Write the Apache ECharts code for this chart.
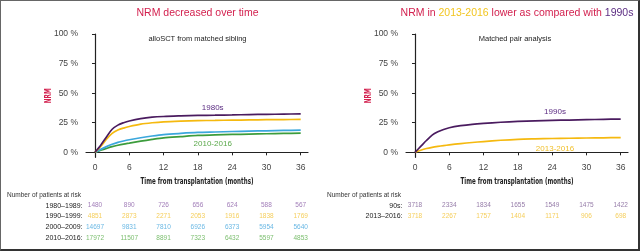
<!DOCTYPE html>
<html>
<head>
<meta charset="utf-8">
<script src="https://cdn.jsdelivr.net/npm/echarts@6/dist/echarts.min.js"></script>
<style>
  html, body { margin: 0; padding: 0; background: #fff; }
  #wrap { position: relative; width: 640px; height: 251px; }
  #chart { width: 640px; height: 251px; }
  #frame { position: absolute; left: 0; top: 0; right: 0; bottom: 0; box-sizing: border-box;
           border: 1px solid #666; border-right: 2px solid #333; border-bottom: 2px solid #333; pointer-events: none; }
</style>
</head>
<body>
<div id="wrap"><div id="chart"></div><div id="frame"></div></div>
<script>
// months at which curve values were read
const months = [0, 1, 2, 3, 4, 5, 6, 8, 10, 12, 15, 18, 21, 24, 27, 30, 33, 36]

// left panel: alloSCT from matched sibling (NRM %)
const nrm1980s = [0, 6, 13, 19.5, 23, 25, 26.5, 28.5, 29.7, 30.3, 30.8, 31.2, 31.4, 31.6, 31.9, 32.1, 32.3, 32.5]
const nrm1990s = [0, 5, 11, 16, 18.8, 20.5, 21.8, 23.8, 25, 25.8, 26.4, 26.8, 27.0, 27.2, 27.4, 27.6, 27.7, 27.8]
const nrm2000s = [0, 2.5, 4.8, 6.8, 8.4, 9.6, 10.6, 12.3, 13.8, 15, 16, 16.8, 17.2, 17.6, 17.9, 18.2, 18.5, 18.7]
const nrm2010s = [0, 1.7, 3.3, 4.8, 6, 7, 7.8, 9.4, 10.9, 12.2, 13.3, 14.3, 14.7, 15.1, 15.4, 15.7, 16, 16.2]

// right panel: matched pair analysis
const pair1990s = [0, 5, 10, 14.5, 17.3, 19.3, 20.8, 22.5, 23.7, 24.5, 25.4, 26.1, 26.6, 27, 27.3, 27.6, 27.9, 28.1]
const pair2013 = [0, 1.8, 3.2, 4.2, 5, 5.7, 6.3, 7.4, 8.3, 9.1, 10.2, 11, 11.4, 11.7, 11.9, 12.1, 12.3, 12.5]

const xTicks = [0, 6, 12, 18, 24, 30, 36]
const yTicks = [0, 25, 50, 75, 100]

// numbers at risk
const riskRowsLeft = ['1980\u20131989:', '1990\u20131999:', '2000\u20132009:', '2010\u20132016:']
const risk1980s = [1480, 890, 726, 656, 624, 588, 567]
const risk1990s = [4851, 2873, 2271, 2053, 1916, 1838, 1769]
const risk2000s = [14697, 9831, 7810, 6926, 6373, 5954, 5640]
const risk2010s = [17972, 11507, 8891, 7323, 6432, 5597, 4853]

const riskRowsRight = ['90s:', '2013\u20132016:']
const riskPair1990s = [3718, 2334, 1834, 1655, 1549, 1475, 1422]
const riskPair2013 = [3718, 2267, 1757, 1404, 1171, 906, 698]

const RED = '#d3214f'
const PURPLE = '#4a1b5f'
const YELLOW = '#f5b90f'
const BLUE = '#3ba7dc'
const GREEN = '#3c9c3c'
const SANS = '"Liberation Sans", Arial, sans-serif'
const COND = '"DejaVu Sans Condensed", "DejaVu Sans", sans-serif'
const X_NAME = 'Time from transplantation (months)'

const X_MIN = -1.575
const X_MAX = 37.28

// the original uses a very narrow bold face; squeeze a condensed bold to the same width
function squeeze(text, size, targetWidth) {
  const ctx = document.createElement('canvas').getContext('2d')
  ctx.font = 'bold ' + size + 'px "DejaVu Sans Condensed", "DejaVu Sans", sans-serif'
  return targetWidth / ctx.measureText(text).width
}

function mainX(gridIndex) {
  return {
    type: 'value', gridIndex, min: X_MIN, max: X_MAX,
    axisLine: { lineStyle: { color: '#222', width: 1.2 } },
    axisTick: { customValues: xTicks, length: 3, lineStyle: { color: '#222' } },
    axisLabel: { customValues: xTicks, color: '#444', fontSize: 8.5, fontFamily: SANS, margin: 6 },
    splitLine: { show: false },
  }
}

function mainY(gridIndex) {
  return {
    type: 'value', gridIndex, min: -4.2, max: 100,
    axisLine: { show: true, lineStyle: { color: '#222', width: 1.2 } },
    axisTick: { show: true, customValues: yTicks, length: 3, lineStyle: { color: '#222' } },
    axisLabel: { customValues: yTicks, formatter: '{value} %', color: '#444', fontSize: 8.5, fontFamily: SANS, margin: 8 },
    splitLine: { show: false },
  }
}

function tableX(gridIndex) {
  return { type: 'value', gridIndex, min: X_MIN, max: X_MAX, show: false }
}

function tableY(gridIndex, rows) {
  return {
    type: 'category', gridIndex, data: rows, inverse: true,
    axisLine: { show: false }, axisTick: { show: false }, splitLine: { show: false },
    axisLabel: { color: '#222', fontSize: 7, fontFamily: SANS, margin: 3.5 },
  }
}

function curve(values, color, grid, tag) {
  const s = {
    type: 'line', xAxisIndex: grid, yAxisIndex: grid,
    data: months.map((m, i) => [m, values[i]]),
    smooth: 0.3, showSymbol: false, symbol: 'none',
    lineStyle: { color, width: 1.7 },
  }
  if (tag) {
    s.markPoint = {
      symbol: 'circle', symbolSize: 1, itemStyle: { color: 'rgba(0,0,0,0)' },
      label: { show: true, position: 'inside', formatter: '{b}', color: tag.color, fontSize: 8, fontFamily: SANS },
      data: [{ name: tag.text, coord: tag.coord }],
    }
  }
  return s
}

function riskRow(values, row, color, grid) {
  return {
    type: 'scatter', xAxisIndex: grid, yAxisIndex: grid,
    data: xTicks.map((t, i) => [t, row, values[i]]),
    symbolSize: 1, itemStyle: { color: 'rgba(0,0,0,0)' },
    label: { show: true, position: 'inside', formatter: p => p.value[2], color, fontSize: 6.5, fontFamily: SANS },
  }
}

function axisNames(offsetX) {
  const sx = squeeze(X_NAME, 9, 113)
  const sy = squeeze('NRM', 9, 15)
  return [
    { type: 'text', x: 197 + offsetX, y: 181.7, scaleX: sx, silent: true,
      style: { text: X_NAME, fill: '#222', fontFamily: COND, fontWeight: 'bold', fontSize: 9, align: 'center', verticalAlign: 'middle' } },
    { type: 'text', x: 49 + offsetX, y: 95.7, rotation: Math.PI / 2, scaleX: sy, silent: true,
      style: { text: 'NRM', fill: RED, fontFamily: COND, fontWeight: 'bold', fontSize: 9, align: 'center', verticalAlign: 'middle' } },
  ]
}

const chart = echarts.init(document.getElementById('chart'))
chart.setOption({
  animation: false,
  title: [
    { text: 'NRM decreased over time', left: 197.5, top: 8, padding: 0, textAlign: 'center',
      textStyle: { color: RED, fontSize: 10.5, fontWeight: 'normal', fontFamily: SANS } },
    { text: '{r|NRM in }{y|2013-2016}{r| lower as compared with }{p|1990s}', left: 517, top: 8, padding: 0, textAlign: 'center',
      textStyle: { fontSize: 10.5, fontWeight: 'normal', fontFamily: SANS,
        rich: {
          r: { color: RED, fontSize: 10.5, fontFamily: SANS },
          y: { color: '#f2c51e', fontSize: 10.5, fontFamily: SANS },
          p: { color: '#5b2c82', fontSize: 10.5, fontFamily: SANS },
        } } },
    { text: 'alloSCT from matched sibling', left: 197.5, top: 35, padding: 0, textAlign: 'center',
      textStyle: { color: '#222', fontSize: 7.5, fontWeight: 'normal', fontFamily: SANS } },
    { text: 'Matched pair analysis', left: 515, top: 35, padding: 0, textAlign: 'center',
      textStyle: { color: '#222', fontSize: 7.5, fontWeight: 'normal', fontFamily: SANS } },
    { text: 'Number of patients at risk', left: 7, top: 192, padding: 0,
      textStyle: { color: '#333', fontSize: 6.5, fontWeight: 'normal', fontFamily: SANS } },
    { text: 'Number of patients at risk', left: 327, top: 192, padding: 0,
      textStyle: { color: '#333', fontSize: 6.5, fontWeight: 'normal', fontFamily: SANS } },
  ],
  grid: [
    { left: 86, top: 34, width: 222, height: 123.3 },
    { left: 406, top: 34, width: 222, height: 123.3 },
    { left: 86, top: 200.2, width: 222, height: 43.6 },
    { left: 406, top: 200.2, width: 222, height: 21.8 },
  ],
  xAxis: [mainX(0), mainX(1), tableX(2), tableX(3)],
  yAxis: [mainY(0), mainY(1), tableY(2, riskRowsLeft), tableY(3, riskRowsRight)],
  graphic: [...axisNames(0), ...axisNames(320)],
  series: [
    curve(nrm2010s, GREEN, 0, { text: '2010-2016', coord: [20.6, 7], color: '#5aa84a' }),
    curve(nrm2000s, BLUE, 0),
    curve(nrm1990s, YELLOW, 0),
    curve(nrm1980s, PURPLE, 0, { text: '1980s', coord: [20.6, 38], color: '#5b2c82' }),
    curve(pair2013, YELLOW, 1, { text: '2013-2016', coord: [24.5, 3], color: '#f0bf2a' }),
    curve(pair1990s, PURPLE, 1, { text: '1990s', coord: [24.5, 34], color: '#5b2c82' }),
    riskRow(risk1980s, riskRowsLeft[0], '#8a5ca6', 2),
    riskRow(risk1990s, riskRowsLeft[1], '#f2c232', 2),
    riskRow(risk2000s, riskRowsLeft[2], '#45a6dd', 2),
    riskRow(risk2010s, riskRowsLeft[3], '#5aae4a', 2),
    riskRow(riskPair1990s, riskRowsRight[0], '#7a5a92', 3),
    riskRow(riskPair2013, riskRowsRight[1], '#f2c232', 3),
  ],
})
</script>
</body>
</html>
